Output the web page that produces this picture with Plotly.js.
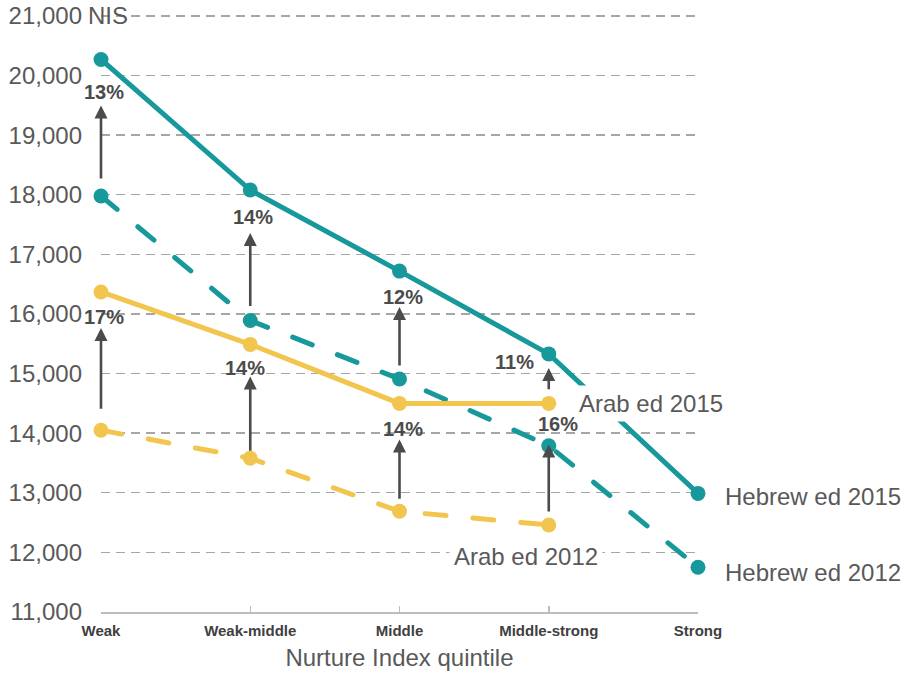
<!DOCTYPE html>
<html>
<head>
<meta charset="utf-8">
<script src="https://cdn.plot.ly/plotly-3.0.1.min.js"></script>
<style>
  html, body { margin: 0; padding: 0; background: #ffffff; }
  #chart { width: 908px; height: 677px; }
  #chart .scatterlayer .js-line { stroke-linecap: round; }
</style>
</head>
<body>
<div id="chart"></div>
<script>
// Monthly wage (NIS) by Nurture Index quintile
const categories = ['Weak', 'Weak-middle', 'Middle', 'Middle-strong', 'Strong'];
const hebrew2015 = [20270, 18080, 16720, 15330, 12990];
const hebrew2012 = [17980, 15890, 14910, 13790, 11750];
const arab2015 = [16370, 15490, 14500, 14500];
const arab2012 = [14050, 13580, 12690, 12460];
const hebrewGrowth = ['13%', '14%', '12%', '11%'];
const arabGrowth = ['17%', '14%', '14%', '16%'];
const yTickVals = [11000, 12000, 13000, 14000, 15000, 16000, 17000, 18000, 19000, 20000, 21000];
const yTickText = ['11,000', '12,000', '13,000', '14,000', '15,000', '16,000', '17,000', '18,000', '19,000', '20,000', '21,000'];
const yUnit = 'NIS';
const seriesNames = ['Hebrew ed 2015', 'Hebrew ed 2012', 'Arab ed 2015', 'Arab ed 2012'];

const TEAL = '#17999b';
const YELLOW = '#f2c54e';
const ARROW = '#4b4b4b';
const FONT = '"Liberation Sans", Arial, sans-serif';

const W = 908, H = 677;
// headroom above the top tick so its gridline is kept
const yRange = [11000, 21050];
const margin = { l: 101, r: 210, t: 13, b: 65, pad: 0 };
const pxPerUnit = (H - margin.t - margin.b) / (yRange[1] - yRange[0]);

function series(name, ys, color, dash) {
  return {
    type: 'scatter',
    mode: 'lines+markers',
    name: name,
    x: categories.slice(0, ys.length),
    y: ys,
    line: { color: color, width: 5, dash: dash },
    marker: { color: color, size: 15 },
    cliponaxis: false,
    hoverinfo: 'skip'
  };
}

const DASHED = '21px,27px';
const traces = [
  series(seriesNames[1], hebrew2012, TEAL, DASHED),
  series(seriesNames[0], hebrew2015, TEAL, 'solid'),
  series(seriesNames[3], arab2012, YELLOW, DASHED),
  series(seriesNames[2], arab2015, YELLOW, 'solid')
];

// label/arrow placement per quintile: [label dx, label dy, arrow head gap, arrow tail gap]
const hebrewPlace = [[3, 33, 46, 16], [3, 27, 43, 13], [3, 26, 36, 12], [-34, 8, 14, 55]];
const arabPlace = [[3, 25, 36, 20], [-5, 24, 32, 6], [3, 26, 36, 11], [9, 21, 41, 12]];

const annotations = [];

function growthMarks(upper, lower, labels, place) {
  labels.forEach((txt, i) => {
    const [dx, dy, headGap, tailGap] = place[i];
    const len = (upper[i] - lower[i]) * pxPerUnit - headGap - tailGap;
    annotations.push({
      x: categories[i], y: upper[i], xref: 'x', yref: 'y',
      yshift: -headGap, text: '', showarrow: true,
      ax: 0, ay: len, axref: 'pixel', ayref: 'pixel',
      arrowhead: 2, arrowsize: 1, arrowwidth: 2.6, arrowcolor: ARROW, standoff: 0
    });
    annotations.push({
      x: categories[i], y: upper[i], xref: 'x', yref: 'y',
      xshift: dx, yshift: -dy, showarrow: false,
      xanchor: 'center', yanchor: 'middle',
      text: txt,
      font: { family: FONT, size: 20, color: ARROW, weight: 'bold' }
    });
  });
}

growthMarks(hebrew2015, hebrew2012, hebrewGrowth, hebrewPlace);
growthMarks(arab2015, arab2012, arabGrowth, arabPlace);

const nameFont = { family: FONT, size: 24, color: '#595959' };
annotations.push(
  { x: categories[3], y: arab2015[3], xref: 'x', yref: 'y', xanchor: 'left', yanchor: 'middle',
    xshift: 25, yshift: 0, showarrow: false, text: seriesNames[2], bgcolor: '#ffffff', borderpad: 4, font: nameFont },
  { x: categories[3], y: arab2012[3], xref: 'x', yref: 'y', xanchor: 'center', yanchor: 'middle',
    xshift: -23, yshift: -32, showarrow: false, text: seriesNames[3], bgcolor: '#ffffff', borderpad: 4, font: nameFont },
  { x: categories[4], y: hebrew2015[4], xref: 'x', yref: 'y', xanchor: 'left', yanchor: 'middle',
    xshift: 25, yshift: -3, showarrow: false, text: seriesNames[0], font: nameFont },
  { x: categories[4], y: hebrew2012[4], xref: 'x', yref: 'y', xanchor: 'left', yanchor: 'middle',
    xshift: 25, yshift: -5, showarrow: false, text: seriesNames[1], font: nameFont },
  { x: 0, y: yTickVals[yTickVals.length - 1], xref: 'paper', yref: 'y', xanchor: 'left', yanchor: 'middle',
    xshift: -15, showarrow: false, text: yUnit, font: nameFont }
);

const layout = {
  width: W, height: H,
  margin: margin,
  paper_bgcolor: '#ffffff',
  plot_bgcolor: '#ffffff',
  showlegend: false,
  font: { family: FONT, color: '#595959' },
  xaxis: {
    type: 'category',
    categoryorder: 'array',
    categoryarray: categories,
    range: [0, 4],
    showgrid: false,
    zeroline: false,
    showline: true,
    linecolor: '#bdbdbd',
    linewidth: 2,
    ticks: 'inside',
    ticklen: 6,
    tickwidth: 1.5,
    tickcolor: '#bdbdbd',
    tickfont: { family: FONT, size: 15, color: '#404040', weight: 'bold' },
    ticklabelstandoff: 4,
    title: { text: 'Nurture Index quintile', font: { family: FONT, size: 24, color: '#595959' }, standoff: 11 }
  },
  yaxis: {
    range: yRange,
    tickvals: yTickVals,
    ticktext: yTickText,
    showline: false,
    zeroline: false,
    showgrid: true,
    gridcolor: '#a6a6a6',
    gridwidth: 1.4,
    griddash: '9px,6px',
    ticks: '',
    ticklabelstandoff: 18,
    tickfont: { family: FONT, size: 24, color: '#595959' }
  },
  annotations: annotations
};

Plotly.newPlot('chart', traces, layout, { displayModeBar: false, staticPlot: true });
</script>
</body>
</html>
